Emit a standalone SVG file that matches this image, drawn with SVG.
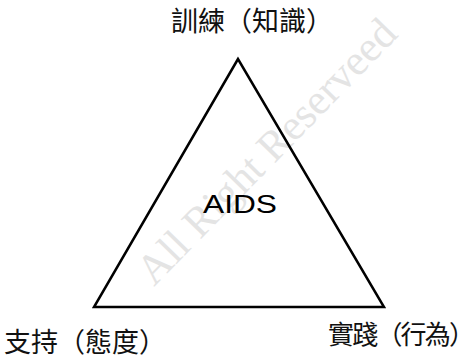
<svg xmlns="http://www.w3.org/2000/svg" width="476" height="359" viewBox="0 0 476 359">
<style>
.cjk{font-family:"Noto Sans CJK TC","Noto Sans CJK SC",sans-serif;font-size:27px;fill:#111}
.wm{font-family:"Liberation Serif",serif;font-size:43px;fill:#e4e4e4}
</style>
<rect width="476" height="359" fill="#fff"/>
<text class="wm" transform="translate(154,287) rotate(-45.7)">All Right Reserveed</text>
<g id="connectors">
<polygon points="238,59 94,307 384,307" fill="none" stroke="#000" stroke-width="2.5" stroke-linejoin="miter"/>
</g>
<g id="node-top"><text class="cjk" x="171" y="31">訓練（知識）</text></g>
<g id="node-left"><text class="cjk" x="4" y="352">支持（態度）</text></g>
<g id="node-right"><text class="cjk" x="328" y="344" style="font-size:26px" textLength="147" lengthAdjust="spacing">實踐（行為）</text></g>
<g id="node-center"><text transform="translate(240,213) scale(1.22,1)" text-anchor="middle" style="font-family:'Liberation Sans',Arial,sans-serif;font-size:26px;fill:#000">AIDS</text></g>
</svg>
